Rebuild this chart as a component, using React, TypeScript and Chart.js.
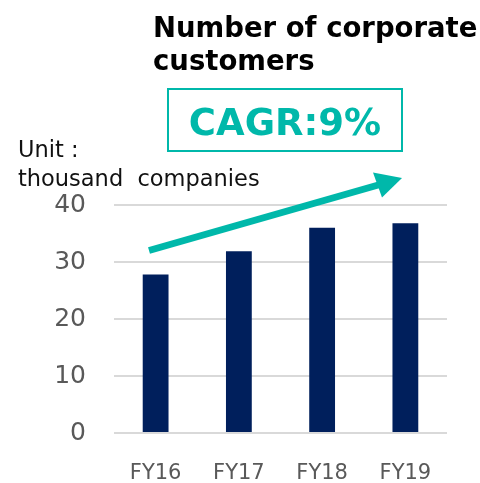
import React, { useEffect, useRef } from "react";
import { Chart, registerables } from "chart.js";

Chart.register(...registerables);

const categories = ["FY16", "FY17", "FY18", "FY19"];
const customers = [27.8, 31.9, 36.0, 36.8];
const yTicks = [0, 10, 20, 30, 40];
const titleLines = ["Number of corporate", "customers"];
const cagrLabel = "CAGR:9%";
const unitLines = ["Unit :", "thousand  companies"];

const TEAL = "#00b8aa";
const NAVY = "#001f5c";
const FONT = "'DejaVu Sans', Verdana, sans-serif";

const decor = {
  id: "decor",
  afterDraw(chart: any) {
    const ctx = chart.ctx;
    ctx.save();
    // title
    ctx.fillStyle = "#000000";
    ctx.font = `bold 27.5px ${FONT}`;
    ctx.textAlign = "left";
    ctx.textBaseline = "alphabetic";
    ctx.fillText(titleLines[0], 153, 37);
    ctx.fillText(titleLines[1], 153, 70);
    // CAGR box
    ctx.strokeStyle = TEAL;
    ctx.lineWidth = 2;
    ctx.strokeRect(168, 89, 234, 62);
    ctx.fillStyle = TEAL;
    ctx.font = `bold 37px ${FONT}`;
    ctx.textAlign = "center";
    ctx.fillText(cagrLabel, 285, 135);
    // unit text
    ctx.fillStyle = "#111111";
    ctx.font = `22.5px ${FONT}`;
    ctx.textAlign = "left";
    ctx.fillText(unitLines[0], 18, 157);
    ctx.fillText(unitLines[1], 18, 186);
    // arrow
    ctx.strokeStyle = TEAL;
    ctx.lineWidth = 7;
    ctx.lineCap = "butt";
    ctx.beginPath();
    ctx.moveTo(149, 250.5);
    ctx.lineTo(380, 184.5);
    ctx.stroke();
    ctx.fillStyle = TEAL;
    ctx.beginPath();
    ctx.moveTo(402, 178);
    ctx.lineTo(373, 172.5);
    ctx.lineTo(382, 197.5);
    ctx.closePath();
    ctx.fill();
    ctx.restore();
  },
};

export default function App() {
  const ref = useRef<HTMLCanvasElement>(null);
  useEffect(() => {
    if (!ref.current) return;
    const chart = new Chart(ref.current, {
      type: "bar",
      data: {
        labels: categories,
        datasets: [
          {
            data: customers,
            backgroundColor: NAVY,
            barPercentage: 0.62,
            categoryPercentage: 0.5,
          },
        ],
      },
      options: {
        animation: false,
        responsive: false,
        layout: { padding: { top: 205, right: 33, left: 0, bottom: 0 } },
        plugins: { legend: { display: false }, tooltip: { enabled: false } },
        scales: {
          x: {
            grid: { display: false },
            border: { display: false },
            ticks: {
              color: "#595959",
              font: { family: FONT, size: 21 },
              padding: 20,
            },
            afterFit: (s: any) => {
              s.height = 50;
            },
          },
          y: {
            min: 0,
            max: 40,
            afterBuildTicks: (s: any) => {
              s.ticks = yTicks.map((v) => ({ value: v }));
            },
            grid: { color: "#d9d9d9", lineWidth: 2, drawTicks: false },
            border: { display: false },
            ticks: {
              color: "#595959",
              font: { family: FONT, size: 25 },
              padding: 28,
            },
            afterFit: (s: any) => {
              s.width = 114;
            },
          },
        },
      },
      plugins: [decor],
    });
    return () => chart.destroy();
  }, []);
  return (
    <div style={{ position: "fixed", left: 0, top: 0, width: 480, height: 483, background: "#fff" }}>
      <canvas ref={ref} width={480} height={483} style={{ display: "block" }} />
    </div>
  );
}
